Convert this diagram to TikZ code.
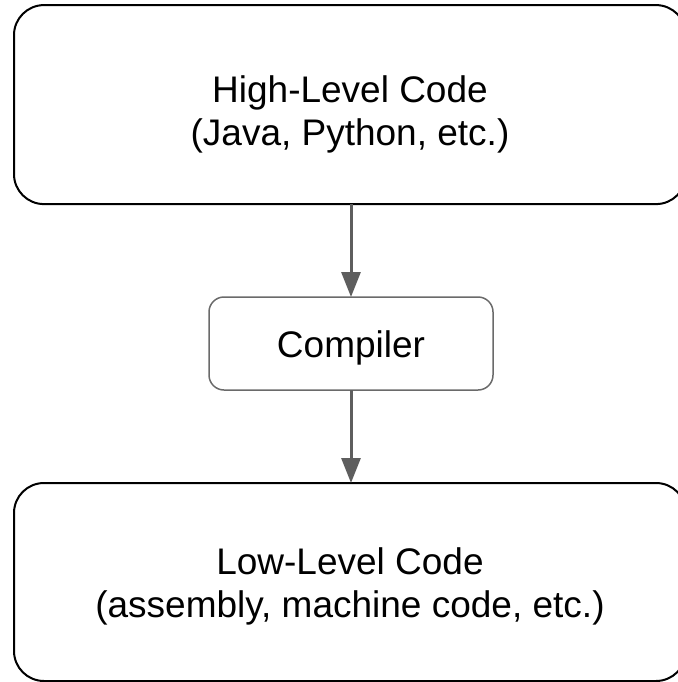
\documentclass[tikz,border=0pt]{standalone}
\usepackage{fontspec}
\setmainfont{Liberation Sans}
\usepackage{tikz}
\usetikzlibrary{arrows.meta}
\definecolor{arrgray}{HTML}{5E5E5E}
\definecolor{boxgray}{HTML}{6A6A6A}

\begin{document}
\begin{tikzpicture}[x=1pt,y=-1pt,
  bigbox/.style={draw=black,line width=2pt,rounded corners=30pt,minimum width=672pt,minimum height=199pt,inner sep=0pt,outer sep=0pt,align=center,text depth=0pt,font=\fontsize{37}{42.5}\selectfont},
  smallbox/.style={draw=boxgray,line width=1.5pt,rounded corners=15pt,minimum width=284pt,minimum height=93pt,inner sep=0pt,outer sep=0pt,text height=27pt,text depth=0pt,font=\fontsize{37}{42.5}\selectfont},
  flow/.style={draw=arrgray,line width=3pt,-{Triangle[length=25pt,width=19pt]}}]

\useasboundingbox (0,0) rectangle (677,682);

\node[bigbox,text height=81pt] (high) at (350,104.6) {High-Level Code\\(Java, Python, etc.)};
\node[smallbox] (comp) at (351,343.5) {Compiler};
\node[bigbox,minimum height=198pt,text height=70pt] (low) at (350,582) {Low-Level Code\\(assembly, machine code, etc.)};

\draw[flow] (high.south -| comp.north) -- (comp.north);
\draw[flow] (comp.south) -- (comp.south |- low.north);

\end{tikzpicture}
\end{document}
